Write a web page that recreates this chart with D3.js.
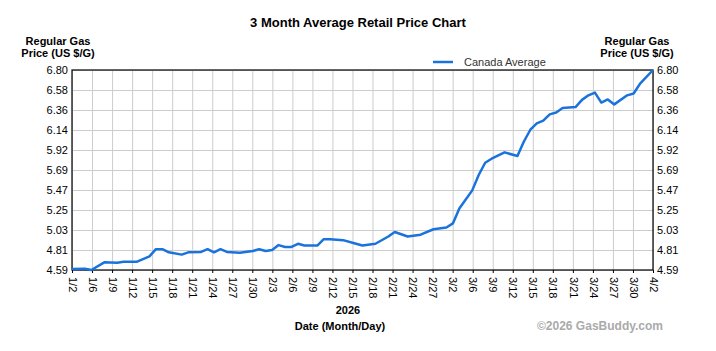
<!DOCTYPE html>
<html>
<head>
<meta charset="utf-8">
<script src="https://cdnjs.cloudflare.com/ajax/libs/d3/7.8.5/d3.min.js"></script>
<style>
  body { margin: 0; background: #fff; }
  svg { font-family: "Liberation Sans", Arial, sans-serif; }
</style>
</head>
<body>
<div id="chart"></div>
<script>
// values
var dates = ['1/2','1/4','1/5','1/7','1/9','1/10','1/12','1/14','1/15','1/16','1/17','1/19','1/20',
  '1/22','1/23','1/24','1/25','1/26','1/28','1/30','1/31','2/1','2/2','2/3','2/4','2/5','2/6','2/7',
  '2/9','2/10','2/11','2/13','2/15','2/16','2/18','2/20','2/21','2/23','2/25','2/27','3/1','3/2',
  '3/3','3/5','3/6','3/7','3/8','3/10','3/12','3/13','3/14','3/15','3/16','3/17','3/18','3/19',
  '3/21','3/22','3/23','3/24','3/25','3/26','3/27','3/29','3/30','3/31','4/2'];
var canadaAvg = [4.60,4.605,4.59,4.675,4.67,4.68,4.68,4.74,4.82,4.82,4.785,4.76,4.785,
  4.79,4.82,4.785,4.82,4.79,4.78,4.80,4.82,4.80,4.81,4.865,4.845,4.845,4.88,4.86,
  4.86,4.93,4.93,4.92,4.88,4.86,4.88,4.96,5.01,4.96,4.98,5.04,5.06,5.105,
  5.27,5.47,5.64,5.775,5.82,5.89,5.85,6.01,6.14,6.21,6.24,6.31,6.33,6.38,
  6.39,6.47,6.52,6.55,6.44,6.475,6.42,6.52,6.54,6.65,6.80];

var xTickLabels = ['1/2','1/6','1/9','1/12','1/15','1/18','1/21','1/24','1/27','1/30','2/3','2/6',
  '2/9','2/12','2/15','2/18','2/21','2/24','2/27','3/2','3/6','3/9','3/12','3/15','3/18','3/21',
  '3/24','3/27','3/30','4/2'];
var yTickLabels = ['4.59','4.81','5.03','5.25','5.47','5.69','5.92','6.14','6.36','6.58','6.80'];

var svgWidth = 716;
var svgHeight = 351;
var padLeft = 72, padTop = 70, plotW = 581, plotH = 200;

var svg = d3.select('#chart')
  .append('svg')
  .attr('width', svgWidth)
  .attr('height', svgHeight);

var parseDate = d3.timeParse('%m/%d/%Y');
var data = dates.map((d, i) => ({ date: parseDate(d + '/2026'), value: canadaAvg[i] }));

// x: time for the line, point scale for the evenly spaced tick labels
var xScale = d3.scaleTime()
  .domain([parseDate('1/2/2026'), parseDate('4/2/2026')])
  .range([padLeft, padLeft + plotW]);

var xTicks = d3.scalePoint()
  .domain(xTickLabels)
  .range([padLeft, padLeft + plotW]);

var yScale = d3.scaleLinear()
  .domain([+yTickLabels[0], +yTickLabels[yTickLabels.length - 1]])
  .range([padTop + plotH, padTop]);

var yTickScale = d3.scalePoint()
  .domain(yTickLabels)
  .range([padTop + plotH, padTop]);

// grid
svg.append('g')
  .attr('transform', 'translate(0,' + (padTop + plotH) + ')')
  .call(d3.axisBottom(xTicks).tickSize(-plotH).tickFormat(''))
  .call(g => g.select('.domain').remove())
  .call(g => g.selectAll('line').attr('stroke', '#cccccc'));

svg.append('g')
  .attr('transform', 'translate(' + padLeft + ',0)')
  .call(d3.axisLeft(yTickScale).tickSize(-plotW).tickFormat(''))
  .call(g => g.select('.domain').remove())
  .call(g => g.selectAll('line').attr('stroke', '#cccccc'));

// left y labels
svg.append('g')
  .attr('transform', 'translate(' + padLeft + ',0)')
  .call(d3.axisLeft(yTickScale).tickSize(0).tickPadding(4))
  .call(g => g.select('.domain').remove())
  .call(g => g.selectAll('text').attr('font-size', 11).attr('fill', '#000').attr('font-family', null));

// right y labels
svg.append('g')
  .attr('transform', 'translate(' + (padLeft + plotW) + ',0)')
  .call(d3.axisRight(yTickScale).tickSize(0).tickPadding(4))
  .call(g => g.select('.domain').remove())
  .call(g => g.selectAll('text').attr('font-size', 11).attr('fill', '#000').attr('font-family', null));

// x labels (rotated)
svg.append('g')
  .attr('transform', 'translate(0,' + (padTop + plotH) + ')')
  .call(d3.axisBottom(xTicks).tickSize(3))
  .call(g => g.select('.domain').remove())
  .call(g => g.selectAll('line').attr('stroke', '#000'))
  .call(g => g.selectAll('text')
    .attr('font-size', 11)
    .attr('fill', '#000')
    .attr('font-family', null)
    .attr('transform', 'rotate(90)')
    .attr('x', 7)
    .attr('y', 0)
    .attr('dy', '0.35em')
    .style('text-anchor', 'start'));

// plot border
svg.append('rect')
  .attr('x', padLeft)
  .attr('y', padTop)
  .attr('width', plotW)
  .attr('height', plotH)
  .attr('fill', 'none')
  .attr('stroke', '#000')
  .attr('stroke-width', 1.2);

// the line
var line = d3.line()
  .x(d => xScale(d.date))
  .y(d => yScale(d.value));

svg.append('path')
  .datum(data)
  .attr('d', line)
  .attr('fill', 'none')
  .attr('stroke', '#1a72dd')
  .attr('stroke-width', 2.5)
  .attr('stroke-linejoin', 'round');

// title
svg.append('text')
  .attr('x', 358)
  .attr('y', 27)
  .attr('text-anchor', 'middle')
  .attr('font-size', 13)
  .attr('font-weight', 'bold')
  .text('3 Month Average Retail Price Chart');

// axis titles
[58, 637].forEach(cx => {
  var t = svg.append('text')
    .attr('text-anchor', 'middle')
    .attr('font-size', 11)
    .attr('font-weight', 'bold');
  t.append('tspan').attr('x', cx).attr('y', 45).text('Regular Gas');
  t.append('tspan').attr('x', cx).attr('y', 57).text('Price (US $/G)');
});

// legend
svg.append('line')
  .attr('x1', 433).attr('x2', 453)
  .attr('y1', 62).attr('y2', 62)
  .attr('stroke', '#1a72dd')
  .attr('stroke-width', 2.5);

svg.append('text')
  .attr('x', 464)
  .attr('y', 65.5)
  .attr('font-size', 11)
  .attr('fill', '#333')
  .text('Canada Average');

// x titles
svg.append('text')
  .attr('x', 348)
  .attr('y', 314)
  .attr('text-anchor', 'middle')
  .attr('font-size', 11)
  .attr('font-weight', 'bold')
  .text('2026');

svg.append('text')
  .attr('x', 340)
  .attr('y', 330)
  .attr('text-anchor', 'middle')
  .attr('font-size', 11)
  .attr('font-weight', 'bold')
  .text('Date (Month/Day)');

svg.append('text')
  .attr('x', 663)
  .attr('y', 330)
  .attr('text-anchor', 'end')
  .attr('font-size', 12)
  .attr('font-weight', 'bold')
  .attr('fill', '#aaaaaa')
  .text('©2026 GasBuddy.com');
</script>
</body>
</html>
